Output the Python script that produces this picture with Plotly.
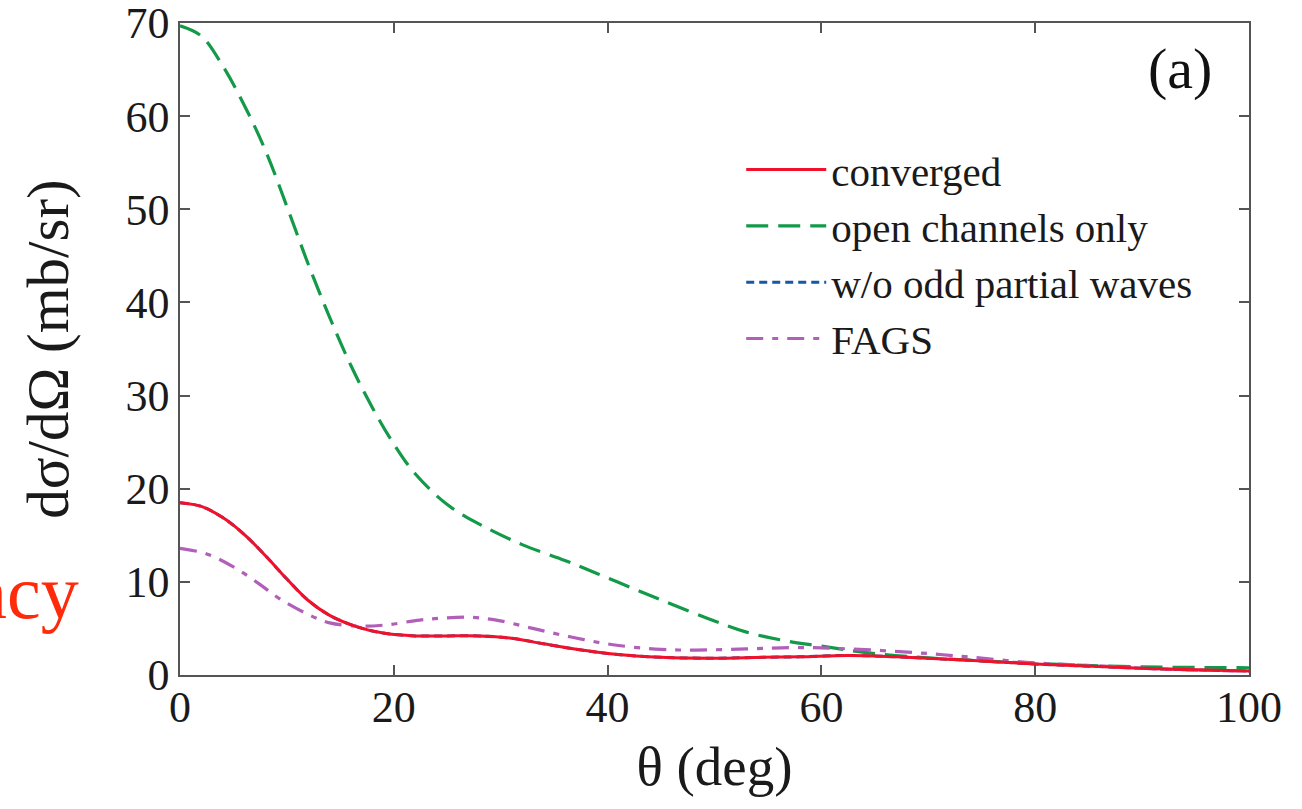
import plotly.graph_objects as go

# Differential cross sections vs. scattering angle
theta_conv = [0, 2, 4, 6, 8, 10, 12, 14, 16.5, 19, 22, 25, 28, 31, 34, 37.4, 40.5,
              45, 50, 54.5, 58, 62.5, 67, 73.5, 80, 86, 92, 100]
converged = [18.5, 18.1, 16.9, 15.1, 12.8, 10.3, 8.0, 6.4, 5.2, 4.5, 4.2, 4.2, 4.2,
             3.95, 3.35, 2.7, 2.25, 1.9, 1.8, 1.9, 1.95, 2.1, 1.95, 1.6, 1.18, 0.9,
             0.64, 0.42]

theta_open = [0, 2, 4, 6, 8, 10, 12, 14, 16, 18, 20, 22, 25, 28, 32, 36, 39, 43,
              46, 50, 53, 57, 60, 65, 72, 80, 89, 100]
open_only = [69.7, 68.6, 65.4, 61.2, 56.3, 50.3, 44.1, 38.4, 33.2, 28.7, 24.8, 21.6,
             18.3, 16.2, 14.0, 12.3, 10.9, 9.0, 7.6, 5.8, 4.6, 3.6, 3.1, 2.3, 1.7,
             1.25, 0.9, 0.78]

theta_wo = [0, 2, 4, 6, 8, 10, 12, 14, 16.5, 19, 22, 25, 28, 31, 34, 37.4, 40.5,
            45, 50, 54.5, 58, 62.5, 67, 73.5, 80, 86, 92, 100]
wo_odd = [18.5, 18.1, 16.9, 15.1, 12.8, 10.3, 8.0, 6.4, 5.2, 4.5, 4.2, 4.2, 4.2,
          3.95, 3.35, 2.7, 2.25, 1.9, 1.8, 1.9, 1.95, 2.1, 1.95, 1.6, 1.18, 0.9,
          0.64, 0.42]

theta_fags = [0, 2.5, 5.3, 7.5, 9.3, 12, 14, 16.8, 19.5, 22.4, 24.5, 27, 29.6, 33,
              36.7, 40.5, 45, 48.3, 53, 57.6, 62.6, 68.8, 73.5, 80, 86, 92, 100]
fags = [13.6, 13.0, 11.4, 9.7, 8.2, 6.5, 5.6, 5.25, 5.4, 5.9, 6.1, 6.2, 5.9, 5.0,
        4.05, 3.25, 2.75, 2.68, 2.8, 2.95, 2.8, 2.4, 1.97, 1.3, 0.97, 0.64, 0.42]

x_ticks = [0, 20, 40, 60, 80, 100]
y_ticks = [0, 10, 20, 30, 40, 50, 60, 70]

SERIF = "Liberation Serif, Times New Roman, serif"
RED = "#f2102a"
GREEN = "#129a48"
BLUE = "#1558a6"
PURPLE = "#b15fb8"

fig = go.Figure()
fig.add_trace(go.Scatter(x=theta_wo, y=wo_odd, mode="lines", name="w/o odd partial waves",
                         line=dict(color=BLUE, width=3, dash="8px,5px", shape="spline"),
                         legendrank=3))
fig.add_trace(go.Scatter(x=theta_open, y=open_only, mode="lines", name="open channels only",
                         line=dict(color=GREEN, width=3.2, dash="22px,10px", shape="spline"),
                         legendrank=2))
fig.add_trace(go.Scatter(x=theta_fags, y=fags, mode="lines", name="FAGS",
                         line=dict(color=PURPLE, width=3.2, dash="17px,9px,6px,9px",
                                   shape="spline"),
                         legendrank=4))
fig.add_trace(go.Scatter(x=theta_conv, y=converged, mode="lines", name="converged",
                         line=dict(color=RED, width=3, shape="spline"),
                         legendrank=1))

axis_common = dict(
    showline=True, linecolor="#555555", linewidth=1.5, mirror="ticks",
    ticks="inside", ticklen=10, tickwidth=1.5, tickcolor="#555555",
    showgrid=False, zeroline=False, ticklabeloverflow="allow", automargin=False,
    tickfont=dict(family=SERIF, size=44, color="#1a1a1a"),
)

fig.update_layout(
    width=1302, height=809,
    margin=dict(l=180, r=53, t=23, b=134),
    paper_bgcolor="white", plot_bgcolor="white",
    font=dict(family=SERIF, color="#1a1a1a"),
    xaxis=dict(range=[0, 100], tickvals=x_ticks, ticklabelstandoff=-8,
               title=dict(text="θ (deg)", font=dict(family=SERIF, size=55), standoff=16),
               **axis_common),
    yaxis=dict(range=[0, 70], tickvals=y_ticks, ticklabelstandoff=0,
               title=dict(text="dσ/dΩ (mb/sr)", font=dict(family=SERIF, size=59), standoff=38),
               **axis_common),
    legend=dict(x=0.525, y=0.826, xanchor="left", yanchor="top",
                font=dict(family=SERIF, size=41, color="#1a1a1a"),
                bgcolor="rgba(0,0,0,0)", itemwidth=80, tracegroupgap=0),
    showlegend=True,
    annotations=[
        dict(text="(a)", xref="paper", yref="paper", x=0.935, y=0.93,
             xanchor="center", yanchor="middle", showarrow=False,
             font=dict(family=SERIF, size=58, color="#111111")),
        dict(text="ncy", xref="paper", yref="paper", x=-0.199, y=0.128,
             xanchor="left", yanchor="middle", showarrow=False,
             font=dict(family=SERIF, size=76, color="#ff2a0a")),
    ],
)

fig.write_html("out.html")
